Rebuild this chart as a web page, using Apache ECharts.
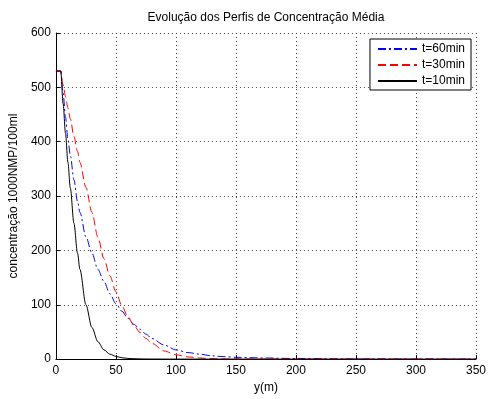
<!DOCTYPE html>
<html>
<head>
<meta charset="utf-8">
<script src="https://cdn.jsdelivr.net/npm/echarts@6/dist/echarts.min.js"></script>
<style>
html, body { margin: 0; padding: 0; background: #fff; }
#chart { width: 489px; height: 399px; }
</style>
</head>
<body>
<div id="chart"></div>
<script>
// posições (m) e concentrações
var yPos = [0, 4, 6, 8, 10, 12, 15, 18, 20, 25, 30, 35, 40, 45, 50, 55, 60, 65, 70, 75, 80, 90, 100, 110, 120, 130, 140, 150, 175, 200, 250, 300, 350];
var c60 = [530, 530, 490, 445, 405, 375, 330, 290, 270, 225, 195, 165, 143, 120, 102, 88, 75, 64, 55, 46, 38, 26, 17, 12, 9, 6, 4.5, 3.3, 2, 1, 0.3, 0.1, 0];
var c30 = [530, 530, 505, 483, 462, 442, 410, 382, 362, 316, 270, 224, 185, 153, 124, 98, 78, 62, 49, 38, 29, 15, 8, 4, 2, 0.8, 0.3, 0.1, 0, 0, 0, 0, 0];
var c10 = [530, 530, 470, 415, 362, 315, 250, 195, 165, 100, 58, 32, 17, 9, 5, 2.5, 1.3, 0.7, 0.4, 0.2, 0.1, 0, 0, 0, 0, 0, 0, 0, 0, 0, 0, 0, 0];
var nomes = ['t=60min', 't=30min', 't=10min'];

function pares(ys) {
    var out = [];
    for (var i = 0; i < yPos.length; i++) {
        out.push([yPos[i], ys[i]]);
    }
    return out;
}

var myChart = echarts.init(document.getElementById('chart'));
var fonte = '"Liberation Sans", Arial, sans-serif';
var option = {
    animation: false,
    backgroundColor: '#fff',
    title: {
        text: 'Evolução dos Perfis de Concentração Média',
        left: 266,
        top: 12,
        padding: 0,
        textAlign: 'center',
        textStyle: { fontSize: 12, fontWeight: 'normal', color: '#000', fontFamily: fonte }
    },
    legend: {
        orient: 'vertical',
        right: 18,
        top: 39,
        data: nomes,
        backgroundColor: '#fff',
        borderColor: '#000',
        borderWidth: 1,
        borderRadius: 0,
        padding: [4, 6, 3, 7],
        itemGap: 4,
        itemWidth: 39,
        itemHeight: 12,
        itemStyle: { opacity: 0 },
        textStyle: { fontSize: 12, color: '#000', fontFamily: fonte }
    },
    grid: {
        left: 55,
        right: 12,
        top: 33,
        bottom: 33,
        containLabel: false
    },
    xAxis: {
        type: 'value',
        min: 0,
        max: 350,
        interval: 50,
        name: 'y(m)',
        nameLocation: 'middle',
        nameGap: 18,
        nameTextStyle: { fontSize: 12, color: '#000', fontFamily: fonte },
        axisLine: { lineStyle: { color: '#000', width: 1 } },
        axisTick: { inside: true, length: 4, lineStyle: { color: '#000' } },
        axisLabel: { fontSize: 12, color: '#000', margin: 6, fontFamily: fonte },
        splitLine: { show: true, lineStyle: { color: '#444', type: [1, 3], width: 1 } }
    },
    yAxis: {
        type: 'value',
        min: 0,
        max: 600,
        interval: 100,
        name: 'concentração 1000NMP/100ml',
        nameLocation: 'middle',
        nameRotate: 90,
        nameGap: 31,
        nameTextStyle: { fontSize: 12, color: '#000', fontFamily: fonte },
        axisLine: { show: true, lineStyle: { color: '#000', width: 1 } },
        axisTick: { show: true, inside: true, length: 4, lineStyle: { color: '#000' } },
        axisLabel: { fontSize: 12, color: '#000', margin: 5, fontFamily: fonte },
        splitLine: { show: true, lineStyle: { color: '#444', type: [1, 3], width: 1 } }
    },
    series: [{
        name: nomes[0],
        type: 'line',
        symbol: 'none',
        smooth: 0.3,
        smoothMonotone: 'x',
        data: pares(c60),
        color: '#0000ff',
        lineStyle: { color: '#0000ff', width: 1, type: [8, 3, 2, 3] }
    }, {
        name: nomes[1],
        type: 'line',
        symbol: 'none',
        smooth: 0.3,
        smoothMonotone: 'x',
        data: pares(c30),
        color: '#ff0000',
        lineStyle: { color: '#ff0000', width: 1, type: [8, 4] }
    }, {
        name: nomes[2],
        type: 'line',
        symbol: 'none',
        smooth: 0.3,
        smoothMonotone: 'x',
        data: pares(c10),
        color: '#000000',
        lineStyle: { color: '#000000', width: 1, type: 'solid' }
    }]
};
myChart.setOption(option);
</script>
</body>
</html>
